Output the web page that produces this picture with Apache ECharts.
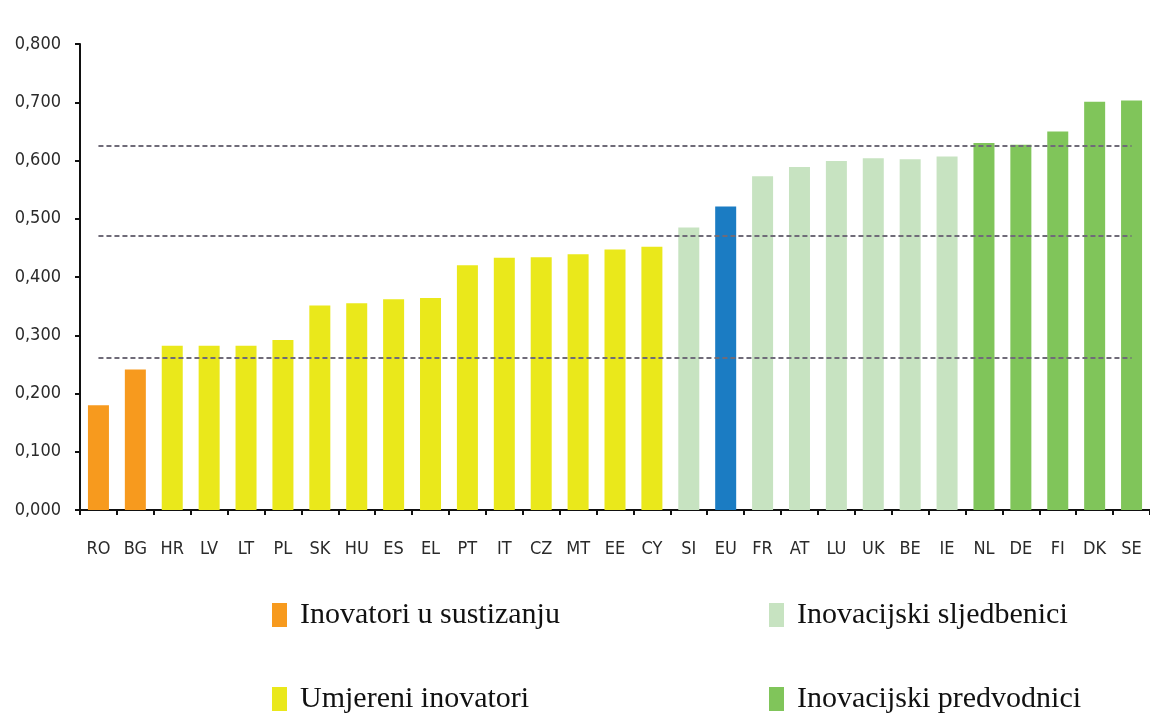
<!DOCTYPE html>
<html>
<head>
<meta charset="utf-8">
<script src="https://cdn.jsdelivr.net/npm/echarts@6/dist/echarts.min.js"></script>
<style>html,body{margin:0;padding:0;background:#fff}#c{width:1150px;height:715px}</style>
</head>
<body>
<div id="c"></div>
<script>
var categories = ['RO','BG','HR','LV','LT','PL','SK','HU','ES','EL','PT','IT','CZ','MT','EE','CY','SI','EU','FR','AT','LU','UK','BE','IE','NL','DE','FI','DK','SE'];
var values = [0.180,0.241,0.282,0.282,0.282,0.292,0.351,0.355,0.362,0.364,0.420,0.433,0.434,0.439,0.447,0.452,0.485,0.521,0.573,0.589,0.599,0.604,0.602,0.607,0.630,0.627,0.650,0.701,0.703];
var groups = [0,0,1,1,1,1,1,1,1,1,1,1,1,1,1,1,2,4,2,2,2,2,2,2,3,3,3,3,3];
var groupNames = ['Inovatori u sustizanju','Umjereni inovatori','Inovacijski sljedbenici','Inovacijski predvodnici','EU'];
var groupColors = ['#F79A1E','#EAE81B','#C7E3C1','#80C55A','#1B7CC3'];
var thresholds = [0.262, 0.470, 0.626];
var yTicks = {min: 0, max: 0.8, interval: 0.1};

var series = groupNames.map(function(name, g){
  return {
    name: name,
    type: 'bar',
    stack: 'all',
    barWidth: 21,
    itemStyle: {color: groupColors[g]},
    data: values.map(function(v, i){ return groups[i] === g ? v : '-'; })
  };
});
series[0].markLine = {
  silent: true,
  symbol: 'none',
  label: {show: false},
  z: 5,
  lineStyle: {color: '#6f6b78', width: 2, type: [5, 3]},
  data: thresholds.map(function(t){
    return [{coord: [categories[0], t]}, {coord: [categories[categories.length-1], t]}];
  })
};

var labelFont = 'DejaVu Sans Condensed, DejaVu Sans';
var legendText = {fontFamily: 'Liberation Serif, Times New Roman, serif', fontSize: 30, color: '#111', padding: [0,0,0,8]};

var chart = echarts.init(document.getElementById('c'));
chart.setOption({
  backgroundColor: '#fff',
  animation: false,
  grid: {left: 80, top: 44, width: 1075, bottom: 205},
  xAxis: {
    type: 'category',
    data: categories,
    axisLine: {lineStyle: {color: '#111', width: 2}},
    axisTick: {show: true, length: 5, lineStyle: {color: '#111', width: 2}},
    axisLabel: {margin: 30, fontSize: 18, color: '#2a2a2a', fontFamily: labelFont, interval: 0}
  },
  yAxis: {
    type: 'value',
    min: yTicks.min, max: yTicks.max, interval: yTicks.interval,
    splitLine: {show: false},
    axisLine: {show: true, lineStyle: {color: '#111', width: 2}},
    axisTick: {show: true, length: 5, lineStyle: {color: '#111', width: 2}},
    axisLabel: {
      margin: 19, fontSize: 18, color: '#2a2a2a', fontFamily: labelFont,
      formatter: function(v){ return v.toFixed(3).replace('.', ','); }
    }
  },
  legend: [
    {
      orient: 'vertical', left: 267, top: 595, height: 130, itemGap: 54,
      itemWidth: 15, itemHeight: 24, icon: 'rect',
      textStyle: legendText,
      data: [groupNames[0], groupNames[1]]
    },
    {
      orient: 'vertical', left: 764, top: 595, height: 130, itemGap: 54,
      itemWidth: 15, itemHeight: 24, icon: 'rect',
      textStyle: legendText,
      data: [groupNames[2], groupNames[3]]
    }
  ],
  series: series
});
</script>
</body>
</html>
